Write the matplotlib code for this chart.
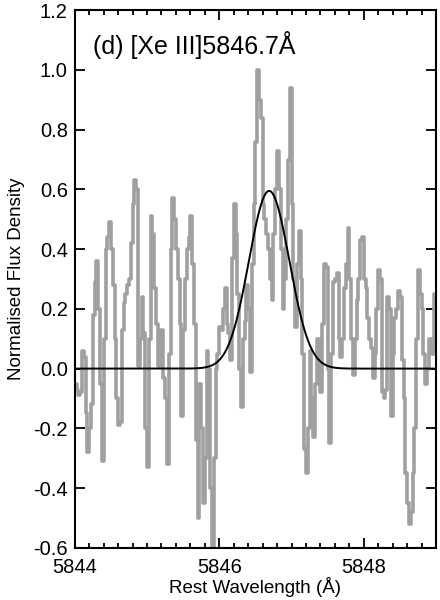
import numpy as np
import matplotlib
matplotlib.use("Agg")
import matplotlib.pyplot as plt
from matplotlib.ticker import MultipleLocator

# Observed spectrum, 0.025 A bins starting at 5844.0
bin_start = 5844.0
bin_width = 0.025
flux = [
    -0.05, -0.07, -0.09, -0.08, 0.06, 0.04, -0.15, -0.28, -0.20, -0.12,
    0.18, 0.29, 0.36, 0.20, -0.05, -0.31, 0.10, 0.40, 0.44, 0.49,
    0.40, 0.28, 0.10, -0.10, -0.19, -0.18, 0.13, 0.22, 0.25, 0.28,
    0.30, 0.42, 0.55, 0.63, 0.60, 0.01, 0.10, 0.24, 0.12, -0.20,
    -0.33, 0.10, 0.51, 0.45, 0.27, 0.15, 0.01, 0.05, 0.13, -0.03,
    -0.10, -0.32, 0.05, 0.40, 0.57, 0.50, 0.40, 0.30, 0.15, -0.16,
    0.13, 0.30, 0.40, 0.44, 0.51, 0.35, 0.15, -0.24, -0.50, -0.05,
    -0.20, -0.45, -0.30, 0.06, 0.00, -0.40, -0.60, -0.30, 0.00, 0.05,
    0.14, 0.13, 0.20, 0.27, 0.15, 0.12, 0.03, 0.37, 0.55, 0.45,
    0.25, 0.00, -0.13, 0.10, 0.16, 0.28, 0.20, -0.01, 0.35, 0.55,
    0.76, 1.00, 0.90, 0.84, 0.55, 0.50, 0.45, 0.40, 0.30, 0.23,
    0.45, 0.60, 0.73, 0.60, 0.40, 0.20, 0.30, 0.50, 0.70, 0.94,
    0.55, 0.30, 0.14, 0.35, 0.46, 0.30, 0.05, -0.27, -0.35, -0.20,
    0.06, -0.10, -0.23, -0.05, 0.10, 0.08, -0.08, 0.15, 0.35, 0.34,
    0.00, -0.25, 0.05, 0.29, 0.30, 0.32, 0.10, 0.04, 0.10, 0.27,
    0.35, 0.47, 0.30, 0.10, -0.02, 0.10, 0.23, 0.30, 0.43, 0.44,
    0.30, 0.27, 0.17, 0.10, 0.07, -0.03, 0.05, 0.20, 0.33, 0.30,
    -0.08, -0.10, -0.07, 0.24, 0.20, -0.16, 0.05, 0.17, 0.20, 0.26,
    0.24, 0.03, -0.10, -0.35, -0.45, -0.52, -0.48, -0.35, -0.20, 0.10,
    0.33, 0.25, 0.20, 0.05, -0.05, 0.00, 0.10, 0.10, 0.05, 0.25,
]

# Gaussian fit parameters
fit_amp = 0.595
fit_centre = 5846.69
fit_sigma = 0.28

label_text = "(d) [Xe III]5846.7\u00c5"

plt.rcParams['font.family'] = ['Liberation Sans', 'DejaVu Sans']

wave = bin_start + bin_width * (np.arange(len(flux)) + 0.5)
wave_fit = np.linspace(5844.0, 5849.0, 600)
flux_fit = fit_amp * np.exp(-0.5 * ((wave_fit - fit_centre) / fit_sigma) ** 2)

fig = plt.figure(figsize=(4.4, 6.0), dpi=100)
ax = fig.add_axes([0.170, 0.087, 0.821, 0.896])

ax.plot(wave, flux, drawstyle='steps-mid', color='#a0a0a0', lw=2.6)
ax.plot(wave_fit, flux_fit, color='black', lw=1.4)

ax.set_xlim(5844.0, 5849.0)
ax.set_ylim(-0.6, 1.2)
ax.xaxis.set_major_locator(MultipleLocator(2))
ax.xaxis.set_minor_locator(MultipleLocator(0.2))
ax.yaxis.set_major_locator(MultipleLocator(0.2))
ax.yaxis.set_major_formatter(plt.FuncFormatter(lambda v, p: f"{v:.1f}"))

ax.tick_params(which='both', direction='in', top=True, right=True, width=1.3, labelsize=14.5)
ax.tick_params(which='major', length=7)
ax.tick_params(which='minor', length=3.5)
ax.tick_params(axis='x', pad=7)
ax.tick_params(axis='y', pad=5)
for sp in ax.spines.values():
    sp.set_linewidth(1.5)

ax.set_xlabel("Rest Wavelength (\u00c5)", fontsize=13.5, labelpad=0)
ax.set_ylabel("Normalised Flux Density", fontsize=13.5, labelpad=6)
ax.text(0.05, 0.962, label_text, transform=ax.transAxes, fontsize=18, va='top', ha='left')

fig.savefig("out.png", dpi=100)
